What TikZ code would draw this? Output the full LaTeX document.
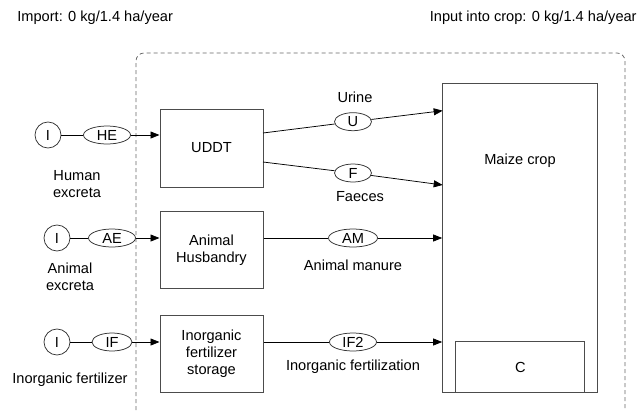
\documentclass[tikz,border=0pt]{standalone}
\usepackage{fontspec}
\setmainfont{Liberation Sans}
\usetikzlibrary{shapes.geometric,arrows.meta}
\tikzset{every picture/.style={line width=0.75pt}}
\tikzset{
  box/.style={draw=black!70,line width=1pt,rectangle,minimum width=103pt,minimum height=77pt,align=center,inner sep=0pt},
  flow/.style={draw=black!80,ellipse,inner sep=0pt,minimum height=18pt,minimum width=37pt},
  src/.style={draw=black!80,circle,inner sep=0pt,minimum size=26pt},
  lbl/.style={align=center,inner sep=0pt},
  arr/.style={-{Triangle[length=9pt,width=7pt]}},
}

\begin{document}
\begin{tikzpicture}[x=1pt,y=-1pt,font=\fontsize{14.6}{17}\selectfont]
	\useasboundingbox (0,0) rectangle (640,410);
	% titles
	\node[lbl,anchor=west] (import) at (17,18) {Import: 0 kg/1.4 ha/year};
	\node[lbl,anchor=east] (input) at (637,18) {Input into crop: 0 kg/1.4 ha/year};
	% system boundary
	\draw[black!60,dash pattern=on 4pt off 3pt,rounded corners=8pt] (136,410)--(136,53)--(625,53)--(625,410);
	% processes
	\node[box,minimum height=78pt] (uddt) at (211.5,148) {UDDT};
	\node[box] (husb) at (211.5,250.3) {Animal\\Husbandry};
	\node[box] (store) at (211.5,353.5) {Inorganic\\fertilizer\\storage};
	\node[box,minimum width=155pt,minimum height=309.4pt] (maize) at (520.2,238) {};
	\node[lbl] (maizelbl) at (520,161) {Maize crop};
	\node[box,minimum width=129.3pt,minimum height=51pt] (crop) at (520.3,367.2) {C};
	% imports
	\node[src] (ih) at (48,135) {I};
	\node[flow,minimum width=47pt] (he) at (107,135) {HE};
	\node[src] (ia) at (57,238) {I};
	\node[flow,minimum width=47pt] (ae) at (112,238) {AE};
	\node[src] (ii) at (57,342) {I};
	\node[flow,minimum width=40pt] (if) at (112,342) {IF};
	\draw (ih)--(he);
	\draw (ia)--(ae);
	\draw (ii)--(if);
	\draw[arr] (he)--(he -| uddt.west);
	\draw[arr] (ae)--(ae -| husb.west);
	\draw[arr] (if)--(if -| store.west);
	\node[lbl] (helbl) at (77,184) {Human\\excreta};
	\node[lbl] (aelbl) at (70,277) {Animal\\excreta};
	\node[lbl] (iflbl) at (70,380) {Inorganic fertilizer};
	% flows into the crop
	\coordinate (uout) at (263,133);
	\coordinate (fout) at (263,162);
	\coordinate (uin) at (442.7,110.7);
	\coordinate (fin) at (442.7,185);
	\node[flow] (u) at (353,121.7) {U};
	\node[flow] (f) at (353,173) {F};
	\node[flow,minimum width=49pt] (am) at (353,238) {AM};
	\node[flow,minimum width=47pt] (if2) at (353,342) {IF2};
	\draw (uout)--(u);
	\draw[arr] (u)--(uin);
	\draw (fout)--(f);
	\draw[arr] (f)--(fin);
	\draw (am -| husb.east)--(am);
	\draw[arr] (am)--(am -| maize.west);
	\draw (if2 -| store.east)--(if2);
	\draw[arr] (if2)--(if2 -| maize.west);
	\node[lbl] (ulbl) at (355,97) {Urine};
	\node[lbl] (flbl) at (360,197) {Faeces};
	\node[lbl] (amlbl) at (353,265) {Animal manure};
	\node[lbl] (if2lbl) at (353,367) {Inorganic fertilization};
\end{tikzpicture}
\end{document}
